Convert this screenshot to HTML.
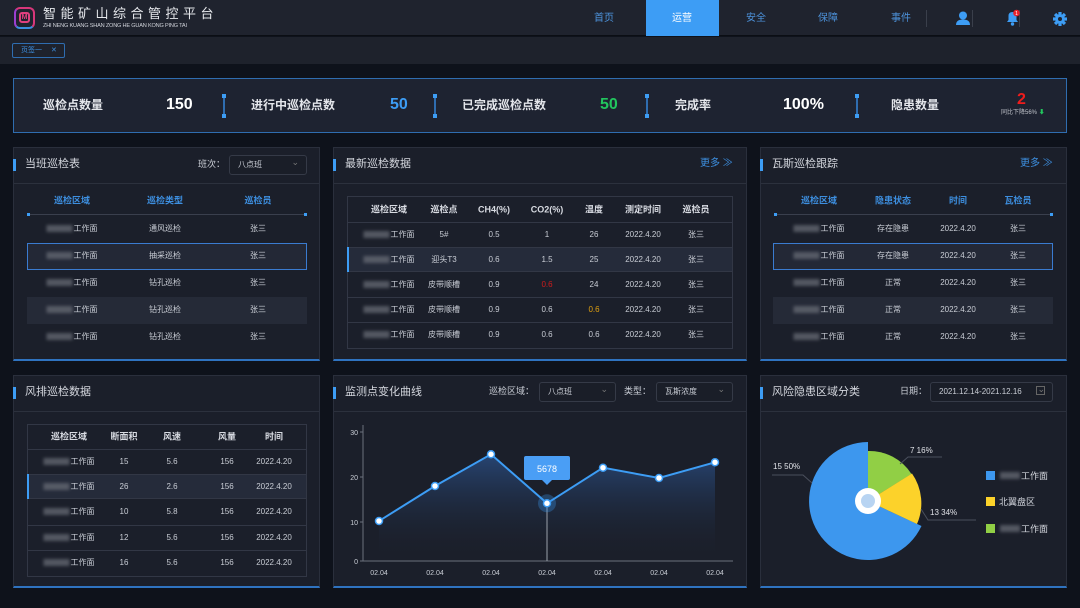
<!DOCTYPE html>
<html><head><meta charset="utf-8"><style>
*{margin:0;padding:0;box-sizing:border-box}
body{width:1080px;height:608px;background:#0e121b;font-family:"Liberation Sans","Noto Sans CJK SC",sans-serif;color:#c9cdd5;position:relative;overflow:hidden;line-height:1}
.a{position:absolute}
.c{position:absolute;transform:translate(-50%,-50%);white-space:nowrap;font-size:8px;color:#c9cdd5}
.h{color:#3d8fe0;font-weight:bold;font-size:9px}
.w{color:#d8dbe2;font-weight:bold;font-size:9px}
.b{display:inline-block;width:26px;height:7px;background:#6b6f79;filter:blur(1.6px);opacity:.7;vertical-align:middle;margin-right:1px}
.panel{position:absolute;background:#1b1f2a;border:1px solid #2a2f3c;border-bottom:2px solid #2f73c0}
.ph{position:absolute;left:0;right:0;top:0;height:36px;border-bottom:1px solid #2c313d}
.ph .bar{position:absolute;left:-1px;top:11px;width:3px;height:12px;background:#3d9df5}
.ph .t{position:absolute;left:11px;top:11px;font-size:11px;color:#d4d7de}
.sel{position:absolute;border:1px solid #353a47;border-radius:3px;background:#1a1e28;font-size:8px;color:#c9cdd5;padding-left:8px;line-height:18px;height:20px}
.sel:after{content:"⌄";position:absolute;right:7px;top:-3px;color:#777;font-size:9px}
.sep{position:absolute;width:2px;height:20px;background:#2f6db0;top:96px}
.sep:before,.sep:after{content:"";position:absolute;left:-1px;width:4px;height:4px;background:#3d9df5}
.sep:before{top:-2px}.sep:after{bottom:-2px}
.sl{position:absolute;top:99px;font-size:12px;font-weight:bold;color:#e4e6eb}
.sv{position:absolute;top:97px;font-size:16px;font-weight:bold;color:#fff}
.nav{position:absolute;top:14px;font-size:10px;color:#4d93dc;transform:translateX(-50%)}
.more{position:absolute;font-size:10px;color:#3d8fe0}
</style></head><body>
<!-- header -->
<div class="a" style="left:0;top:0;width:1080px;height:36px;background:#1f232e;border-bottom:1px solid #0b0e14"></div>
<div class="a" style="left:14px;top:7px;width:21px;height:22px;border:2px solid #d8377a;border-radius:6px;border-left-color:#9b3fd0;border-bottom-color:#3a8fe0"></div>
<div class="a" style="left:19px;top:12px;width:11px;height:11px;border:2px solid #e0407f;border-radius:3px;font-size:7px;color:#e0407f;text-align:center;line-height:7px;font-weight:bold">M</div>
<div class="a" style="left:43px;top:7px;font-size:13px;letter-spacing:4.5px;color:#e6e8ec">智能矿山综合管控平台</div>
<div class="a" style="left:43px;top:24px;font-size:5.6px;color:#d0d3da;letter-spacing:-0.2px">ZHI NENG KUANG SHAN ZONG HE GUAN KONG PING TAI</div>
<div class="a" style="left:646px;top:0;width:73px;height:36px;background:#3d9df5"></div>
<div class="nav" style="left:604px">首页</div>
<div class="nav" style="left:682px;color:#fff">运营</div>
<div class="nav" style="left:756px">安全</div>
<div class="nav" style="left:828px">保障</div>
<div class="nav" style="left:901px">事件</div>
<div class="a" style="left:926px;top:10px;width:1px;height:17px;background:#3a3f4b"></div>
<div class="a" style="left:972px;top:10px;width:1px;height:17px;background:#3a3f4b"></div>
<div class="a" style="left:1019px;top:10px;width:1px;height:17px;background:#3a3f4b"></div>
<svg class="a" style="left:955px;top:11px" width="16" height="15"><circle cx="8" cy="4.5" r="4" fill="#3d9df5"/><path d="M1 14 Q1 8.5 8 8.5 Q15 8.5 15 14Z" fill="#3d9df5"/></svg>
<svg class="a" style="left:1004px;top:9px" width="18" height="18"><path d="M3 13 L4.5 11 L4.5 7 Q4.5 3 8.5 3 Q12.5 3 12.5 7 L12.5 11 L14 13Z" fill="#3d9df5"/><circle cx="8.5" cy="15" r="1.7" fill="#3d9df5"/><circle cx="12.5" cy="4" r="3.3" fill="#e8222a"/><text x="12.5" y="6" font-size="5" fill="#fff" text-anchor="middle" font-family="Liberation Sans">1</text></svg>
<svg class="a" style="left:1053px;top:12px" width="14" height="14" viewBox="-7 -7 14 14"><g fill="#3d9df5"><circle r="4.8"/><g id="t"><rect x="-1.6" y="-7" width="3.2" height="14"/></g><use href="#t" transform="rotate(45)"/><use href="#t" transform="rotate(90)"/><use href="#t" transform="rotate(135)"/></g><circle r="2" fill="#1f232e"/></svg>
<!-- tab bar -->
<div class="a" style="left:0;top:37px;width:1080px;height:27px;background:#1e222c"></div>
<div class="a" style="left:12px;top:43px;width:53px;height:15px;border:1px solid #2f6db0;border-radius:2px;font-size:7px;color:#3d8fe0;line-height:13px;padding-left:8px">页签一 <span style="margin-left:7px">✕</span></div>
<!-- stats -->
<div class="a" style="left:13px;top:78px;width:1054px;height:55px;background:#1e2331;border:1px solid #2f6db0"></div>
<div class="sl" style="left:43px">巡检点数量</div><div class="sv" style="left:166px">150</div>
<div class="sep" style="left:223px"></div>
<div class="sl" style="left:251px">进行中巡检点数</div><div class="sv" style="left:390px;color:#3d9df5">50</div>
<div class="sep" style="left:434px"></div>
<div class="sl" style="left:462px">已完成巡检点数</div><div class="sv" style="left:600px;color:#22c55e">50</div>
<div class="sep" style="left:646px"></div>
<div class="sl" style="left:675px">完成率</div><div class="sv" style="left:783px">100%</div>
<div class="sep" style="left:856px"></div>
<div class="sl" style="left:891px">隐患数量</div>
<div class="a" style="left:1017px;top:92px;font-size:16px;font-weight:bold;color:#f01c1c">2</div>
<div class="a" style="left:1001px;top:110px;font-size:6px;color:#bfc2c9">同比下降56% <span style="color:#22c55e">⬇</span></div>

<!-- panel 1 -->
<div class="panel" style="left:13px;top:147px;width:307px;height:214px"><div class="ph"><div class="bar"></div><div class="t">当班巡检表</div></div></div>
<div class="a" style="left:198px;top:160px;font-size:9px;color:#c9cdd5">班次：</div>
<div class="sel" style="left:229px;top:155px;width:78px">八点班</div>
<div class="c h" style="left:72px;top:201px">巡检区域</div><div class="c h" style="left:165px;top:201px">巡检类型</div><div class="c h" style="left:258px;top:201px">巡检员</div>
<div class="a" style="left:28px;top:214px;width:278px;height:1px;background:#3a3f4d"></div>
<div class="a" style="left:27px;top:213px;width:3px;height:3px;background:#3d9df5"></div><div class="a" style="left:304px;top:213px;width:3px;height:3px;background:#3d9df5"></div>
<div class="a" style="left:27px;top:243px;width:280px;height:27px;background:#232836;border:1px solid #3a7bd0"></div>
<div class="a" style="left:27px;top:297px;width:280px;height:27px;background:#252a37"></div>
<div class="c" style="left:72px;top:229px"><i class="b"></i>工作面</div><div class="c" style="left:165px;top:229px">通风巡检</div><div class="c" style="left:258px;top:229px">张三</div>
<div class="c" style="left:72px;top:256px"><i class="b"></i>工作面</div><div class="c" style="left:165px;top:256px">抽采巡检</div><div class="c" style="left:258px;top:256px">张三</div>
<div class="c" style="left:72px;top:283px"><i class="b"></i>工作面</div><div class="c" style="left:165px;top:283px">钻孔巡检</div><div class="c" style="left:258px;top:283px">张三</div>
<div class="c" style="left:72px;top:310px"><i class="b"></i>工作面</div><div class="c" style="left:165px;top:310px">钻孔巡检</div><div class="c" style="left:258px;top:310px">张三</div>
<div class="c" style="left:72px;top:337px"><i class="b"></i>工作面</div><div class="c" style="left:165px;top:337px">钻孔巡检</div><div class="c" style="left:258px;top:337px">张三</div>

<!-- panel 2 -->
<div class="panel" style="left:333px;top:147px;width:414px;height:214px"><div class="ph"><div class="bar"></div><div class="t">最新巡检数据</div></div></div>
<div class="more" style="left:700px;top:159px">更多 ≫</div>
<div class="a" style="left:347px;top:196px;width:386px;height:153px;border:1px solid #323745"></div>
<div class="a" style="left:348px;top:222px;width:384px;height:1px;background:#323745"></div>
<div class="a" style="left:348px;top:247px;width:384px;height:25px;background:#252b3a;border-top:1px solid #323745;border-bottom:1px solid #323745"></div>
<div class="a" style="left:347px;top:247px;width:2px;height:25px;background:#3d9df5"></div>
<div class="a" style="left:348px;top:297px;width:384px;height:1px;background:#323745"></div>
<div class="a" style="left:348px;top:322px;width:384px;height:1px;background:#323745"></div>
<div class="c w" style="left:389px;top:210px">巡检区域</div><div class="c w" style="left:444px;top:210px">巡检点</div><div class="c w" style="left:494px;top:210px">CH4(%)</div><div class="c w" style="left:547px;top:210px">CO2(%)</div><div class="c w" style="left:594px;top:210px">温度</div><div class="c w" style="left:643px;top:210px">测定时间</div><div class="c w" style="left:696px;top:210px">巡检员</div>
<div class="c" style="left:389px;top:235px"><i class="b"></i>工作面</div><div class="c" style="left:444px;top:235px">5#</div><div class="c" style="left:494px;top:235px">0.5</div><div class="c" style="left:547px;top:235px">1</div><div class="c" style="left:594px;top:235px">26</div><div class="c" style="left:643px;top:235px">2022.4.20</div><div class="c" style="left:696px;top:235px">张三</div>
<div class="c" style="left:389px;top:260px"><i class="b"></i>工作面</div><div class="c" style="left:444px;top:260px">迎头T3</div><div class="c" style="left:494px;top:260px">0.6</div><div class="c" style="left:547px;top:260px">1.5</div><div class="c" style="left:594px;top:260px">25</div><div class="c" style="left:643px;top:260px">2022.4.20</div><div class="c" style="left:696px;top:260px">张三</div>
<div class="c" style="left:389px;top:285px"><i class="b"></i>工作面</div><div class="c" style="left:444px;top:285px">皮带顺槽</div><div class="c" style="left:494px;top:285px">0.9</div><div class="c" style="left:547px;top:285px;color:#d01c1c">0.6</div><div class="c" style="left:594px;top:285px">24</div><div class="c" style="left:643px;top:285px">2022.4.20</div><div class="c" style="left:696px;top:285px">张三</div>
<div class="c" style="left:389px;top:310px"><i class="b"></i>工作面</div><div class="c" style="left:444px;top:310px">皮带顺槽</div><div class="c" style="left:494px;top:310px">0.9</div><div class="c" style="left:547px;top:310px">0.6</div><div class="c" style="left:594px;top:310px;color:#e0a010">0.6</div><div class="c" style="left:643px;top:310px">2022.4.20</div><div class="c" style="left:696px;top:310px">张三</div>
<div class="c" style="left:389px;top:335px"><i class="b"></i>工作面</div><div class="c" style="left:444px;top:335px">皮带顺槽</div><div class="c" style="left:494px;top:335px">0.9</div><div class="c" style="left:547px;top:335px">0.6</div><div class="c" style="left:594px;top:335px">0.6</div><div class="c" style="left:643px;top:335px">2022.4.20</div><div class="c" style="left:696px;top:335px">张三</div>

<!-- panel 3 -->
<div class="panel" style="left:760px;top:147px;width:307px;height:214px"><div class="ph"><div class="bar"></div><div class="t">瓦斯巡检跟踪</div></div></div>
<div class="more" style="left:1020px;top:159px">更多 ≫</div>
<div class="c h" style="left:819px;top:201px">巡检区域</div><div class="c h" style="left:893px;top:201px">隐患状态</div><div class="c h" style="left:958px;top:201px">时间</div><div class="c h" style="left:1018px;top:201px">瓦检员</div>
<div class="a" style="left:775px;top:214px;width:277px;height:1px;background:#3a3f4d"></div>
<div class="a" style="left:774px;top:213px;width:3px;height:3px;background:#3d9df5"></div><div class="a" style="left:1050px;top:213px;width:3px;height:3px;background:#3d9df5"></div>
<div class="a" style="left:773px;top:243px;width:280px;height:27px;background:#232836;border:1px solid #3a7bd0"></div>
<div class="a" style="left:773px;top:297px;width:280px;height:27px;background:#252a37"></div>
<div class="c" style="left:819px;top:229px"><i class="b"></i>工作面</div><div class="c" style="left:893px;top:229px">存在隐患</div><div class="c" style="left:958px;top:229px">2022.4.20</div><div class="c" style="left:1018px;top:229px">张三</div>
<div class="c" style="left:819px;top:256px"><i class="b"></i>工作面</div><div class="c" style="left:893px;top:256px">存在隐患</div><div class="c" style="left:958px;top:256px">2022.4.20</div><div class="c" style="left:1018px;top:256px">张三</div>
<div class="c" style="left:819px;top:283px"><i class="b"></i>工作面</div><div class="c" style="left:893px;top:283px">正常</div><div class="c" style="left:958px;top:283px">2022.4.20</div><div class="c" style="left:1018px;top:283px">张三</div>
<div class="c" style="left:819px;top:310px"><i class="b"></i>工作面</div><div class="c" style="left:893px;top:310px">正常</div><div class="c" style="left:958px;top:310px">2022.4.20</div><div class="c" style="left:1018px;top:310px">张三</div>
<div class="c" style="left:819px;top:337px"><i class="b"></i>工作面</div><div class="c" style="left:893px;top:337px">正常</div><div class="c" style="left:958px;top:337px">2022.4.20</div><div class="c" style="left:1018px;top:337px">张三</div>

<!-- panel 4 -->
<div class="panel" style="left:13px;top:375px;width:307px;height:213px"><div class="ph"><div class="bar"></div><div class="t">风排巡检数据</div></div></div>
<div class="a" style="left:27px;top:424px;width:280px;height:153px;border:1px solid #323745"></div>
<div class="a" style="left:28px;top:449px;width:278px;height:1px;background:#323745"></div>
<div class="a" style="left:28px;top:474px;width:278px;height:25px;background:#252b3a;border-top:1px solid #323745;border-bottom:1px solid #323745"></div>
<div class="a" style="left:27px;top:474px;width:2px;height:25px;background:#3d9df5"></div>
<div class="a" style="left:28px;top:525px;width:278px;height:1px;background:#323745"></div>
<div class="a" style="left:28px;top:550px;width:278px;height:1px;background:#323745"></div>
<div class="c w" style="left:69px;top:437px">巡检区域</div><div class="c w" style="left:124px;top:437px">断面积</div><div class="c w" style="left:172px;top:437px">风速</div><div class="c w" style="left:227px;top:437px">风量</div><div class="c w" style="left:274px;top:437px">时间</div>
<div class="c" style="left:69px;top:462px"><i class="b"></i>工作面</div><div class="c" style="left:124px;top:462px">15</div><div class="c" style="left:172px;top:462px">5.6</div><div class="c" style="left:227px;top:462px">156</div><div class="c" style="left:274px;top:462px">2022.4.20</div>
<div class="c" style="left:69px;top:487px"><i class="b"></i>工作面</div><div class="c" style="left:124px;top:487px">26</div><div class="c" style="left:172px;top:487px">2.6</div><div class="c" style="left:227px;top:487px">156</div><div class="c" style="left:274px;top:487px">2022.4.20</div>
<div class="c" style="left:69px;top:512px"><i class="b"></i>工作面</div><div class="c" style="left:124px;top:512px">10</div><div class="c" style="left:172px;top:512px">5.8</div><div class="c" style="left:227px;top:512px">156</div><div class="c" style="left:274px;top:512px">2022.4.20</div>
<div class="c" style="left:69px;top:538px"><i class="b"></i>工作面</div><div class="c" style="left:124px;top:538px">12</div><div class="c" style="left:172px;top:538px">5.6</div><div class="c" style="left:227px;top:538px">156</div><div class="c" style="left:274px;top:538px">2022.4.20</div>
<div class="c" style="left:69px;top:563px"><i class="b"></i>工作面</div><div class="c" style="left:124px;top:563px">16</div><div class="c" style="left:172px;top:563px">5.6</div><div class="c" style="left:227px;top:563px">156</div><div class="c" style="left:274px;top:563px">2022.4.20</div>

<!-- panel 5 -->
<div class="panel" style="left:333px;top:375px;width:414px;height:213px"><div class="ph"><div class="bar"></div><div class="t">监测点变化曲线</div></div></div>
<div class="a" style="left:489px;top:387px;font-size:9px;color:#c9cdd5">巡检区域：</div>
<div class="sel" style="left:539px;top:382px;width:77px">八点班</div>
<div class="a" style="left:624px;top:387px;font-size:9px;color:#c9cdd5">类型：</div>
<div class="sel" style="left:656px;top:382px;width:77px">瓦斯浓度</div>
<svg class="a" style="left:333px;top:375px" width="414" height="213" font-family="Liberation Sans">
<defs><linearGradient id="g" x1="0" y1="0" x2="0" y2="1"><stop offset="0" stop-color="#2a4f86" stop-opacity=".8"/><stop offset="1" stop-color="#1b1f2a" stop-opacity="0"/></linearGradient></defs>
<path d="M46 146 L102 111 L158 79.3 L214 128.3 L270 92.7 L326 103 L382 87.3 L382 186 L46 186Z" fill="url(#g)"/>
<line x1="30" y1="50" x2="30" y2="186" stroke="#6b707c"/>
<line x1="30" y1="186" x2="400" y2="186" stroke="#6b707c"/>
<g stroke="#6b707c"><line x1="27" y1="57" x2="30" y2="57"/><line x1="27" y1="102" x2="30" y2="102"/><line x1="27" y1="147" x2="30" y2="147"/><line x1="27" y1="186" x2="30" y2="186"/></g>
<g font-size="7" fill="#c9cdd5" text-anchor="end"><text x="25" y="60">30</text><text x="25" y="105">20</text><text x="25" y="150">10</text><text x="25" y="189">0</text></g>
<g font-size="7" fill="#c9cdd5" text-anchor="middle"><text x="46" y="200">02.04</text><text x="102" y="200">02.04</text><text x="158" y="200">02.04</text><text x="214" y="200">02.04</text><text x="270" y="200">02.04</text><text x="326" y="200">02.04</text><text x="382" y="200">02.04</text></g>
<line x1="214" y1="128" x2="214" y2="186" stroke="#9aa0aa"/>
<polyline points="46,146 102,111 158,79.3 214,128.3 270,92.7 326,103 382,87.3" fill="none" stroke="#3d9df5" stroke-width="2"/>
<circle cx="214" cy="128.3" r="9" fill="#3d9df5" opacity=".3"/>
<g fill="#fff" stroke="#3d9df5" stroke-width="1.5"><circle cx="46" cy="146" r="3.5"/><circle cx="102" cy="111" r="3.5"/><circle cx="158" cy="79.3" r="3.5"/><circle cx="214" cy="128.3" r="3.5"/><circle cx="270" cy="92.7" r="3.5"/><circle cx="326" cy="103" r="3.5"/><circle cx="382" cy="87.3" r="3.5"/></g>
<rect x="191" y="81" width="46" height="24" rx="2" fill="#4a9ef5"/><path d="M209 105 L214 110 L219 105Z" fill="#4a9ef5"/>
<text x="214" y="97" font-size="9" fill="#fff" text-anchor="middle">5678</text>
</svg>

<!-- panel 6 -->
<div class="panel" style="left:760px;top:375px;width:307px;height:213px"><div class="ph"><div class="bar"></div><div class="t">风险隐患区域分类</div></div></div>
<div class="a" style="left:900px;top:387px;font-size:9px;color:#c9cdd5">日期：</div>
<div class="sel" style="left:930px;top:382px;width:123px;font-size:8px">2021.12.14-2021.12.16</div>
<div class="a" style="left:1036px;top:386px;width:9px;height:9px;border:1px solid #666"></div>
<svg class="a" style="left:760px;top:375px" width="307" height="213" font-family="Liberation Sans">
<g transform="translate(108,126)">
<path d="M0 0 L0 -59 A59 59 0 1 0 53.5 25Z" fill="#3d97ee"/>
<path d="M0 0 L0 -50 A50 50 0 0 1 43.5 -27Z" fill="#91cf45"/>
<path d="M0 0 L44 -27.5 A52 52 0 0 1 49 23Z" fill="#fcd22a"/>
<circle r="13" fill="#fff"/><circle r="7" fill="#b8d4f2"/>
</g>
<g stroke="#4a4f5c" fill="none"><polyline points="12,100 43,100 52,108"/><polyline points="140,89 148,82 182,82"/><polyline points="161,134 168,145 216,145"/></g>
<g font-size="8" fill="#e0e2e7"><text x="13" y="94">15  50%</text><text x="150" y="78">7  16%</text><text x="170" y="140">13  34%</text></g>
<rect x="226" y="96" width="9" height="9" fill="#3d97ee"/><rect x="226" y="122" width="9" height="9" fill="#fcd22a"/><rect x="226" y="149" width="9" height="9" fill="#91cf45"/>
<g font-size="9" fill="#d4d7de" font-family="Liberation Sans,Noto Sans CJK SC,sans-serif"><text x="261" y="104">工作面</text><text x="239" y="130">北翼盘区</text><text x="261" y="157">工作面</text></g>
<g fill="#6b6f79" opacity=".7" style="filter:blur(1.6px)"><rect x="240" y="97" width="20" height="7"/><rect x="240" y="150" width="20" height="7"/></g>
</svg>
</body></html>
